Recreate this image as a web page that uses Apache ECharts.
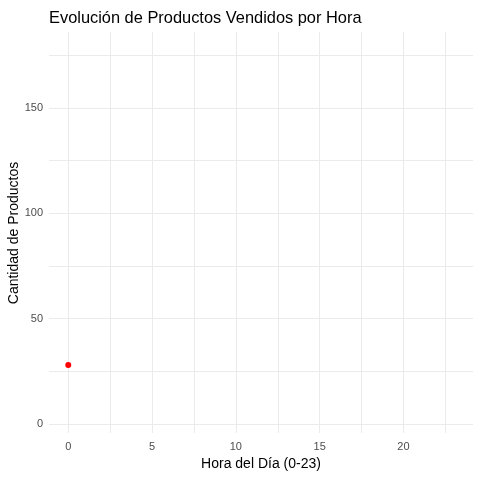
<!DOCTYPE html>
<html>
<head>
<meta charset="utf-8">
<script src="https://cdn.jsdelivr.net/npm/echarts@6/dist/echarts.min.js"></script>
<style>
html,body{margin:0;padding:0;background:#fff;}
#chart{width:480px;height:480px;}
</style>
</head>
<body>
<div id="chart"></div>
<script>
// Data (first frame: only hour 0 is shown)
const hours = [0];
const products = [28];

// Axis ticks
const xGridTicks = [0, 2.5, 5, 7.5, 10, 12.5, 15, 17.5, 20, 22.5];
const xLabelTicks = [0, 5, 10, 15, 20];
const yGridTicks = [0, 25, 50, 75, 100, 125, 150, 175];
const yLabelTicks = [0, 50, 100, 150];
const xRange = [-1.15, 24.15];
const yRange = [-4.2, 186];

const chart = echarts.init(document.getElementById('chart'), null, {renderer: 'canvas'});
const font = 'Liberation Sans, Arial, sans-serif';
chart.setOption({
  animation: false,
  backgroundColor: '#ffffff',
  title: {
    text: 'Evolución de Productos Vendidos por Hora',
    left: 44, top: 5,
    textStyle: {fontFamily: font, fontSize: 16.4, fontWeight: 'normal', color: '#000000'}
  },
  graphic: [{
    type: 'text',
    x: 14, y: 233,
    rotation: Math.PI / 2,
    style: {
      text: 'Cantidad de Productos',
      font: '14px ' + font,
      fill: '#000000',
      align: 'center',
      verticalAlign: 'middle'
    }
  }],
  grid: {left: 49, right: 7, top: 32, bottom: 47, containLabel: false, outerBoundsMode: 'none'},
  xAxis: {
    type: 'value', min: xRange[0], max: xRange[1],
    name: 'Hora del Día (0-23)', nameLocation: 'middle', nameGap: 23,
    nameTextStyle: {fontFamily: font, fontSize: 14, color: '#000000'},
    axisLine: {show: false},
    axisTick: {show: false, customValues: xGridTicks},
    axisLabel: {customValues: xLabelTicks, fontFamily: font, fontSize: 11, color: '#4D4D4D', margin: 8},
    splitLine: {show: true, lineStyle: {color: '#EBEBEB', width: 1}}
  },
  yAxis: {
    type: 'value', min: yRange[0], max: yRange[1],
    axisLine: {show: false},
    axisTick: {show: false, customValues: yGridTicks},
    axisLabel: {customValues: yLabelTicks, fontFamily: font, fontSize: 11, color: '#4D4D4D', margin: 6},
    splitLine: {show: true, lineStyle: {color: '#EBEBEB', width: 1}}
  },
  series: [{
    type: 'scatter',
    data: hours.map((h, i) => [h, products[i]]),
    symbolSize: 6,
    itemStyle: {color: '#FF0000', opacity: 1}
  }]
});
</script>
</body>
</html>
